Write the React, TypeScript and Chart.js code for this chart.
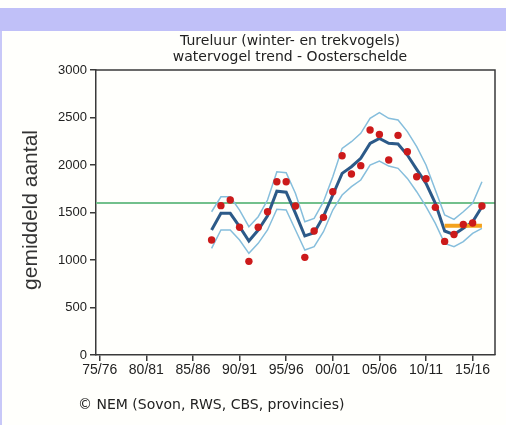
import React, { useEffect, useRef } from "react";
import { Chart, registerables } from "chart.js";

Chart.register(...registerables);

const YEARS = [
  1987, 1988, 1989, 1990, 1991, 1992, 1993, 1994, 1995, 1996,
  1997, 1998, 1999, 2000, 2001, 2002, 2003, 2004, 2005, 2006,
  2007, 2008, 2009, 2010, 2011, 2012, 2013, 2014, 2015, 2016,
];
const COUNTS = [
  1210, 1572, 1632, 1344, 986, 1344, 1508, 1824, 1824, 1568,
  1028, 1305, 1449, 1719, 2098, 1905, 1993, 2368, 2322, 2053,
  2312, 2140, 1877, 1856, 1554, 1196, 1268, 1374, 1389, 1568,
];
const TREND = [
  1316, 1491, 1491, 1351, 1200, 1316, 1466, 1724, 1714, 1491,
  1253, 1287, 1459, 1684, 1912, 1982, 2070, 2228, 2280, 2228,
  2221, 2105, 1954, 1807, 1596, 1305, 1268, 1333, 1403, 1561,
];
const UPPER = [
  1508, 1666, 1666, 1526, 1351, 1456, 1631, 1929, 1919, 1701,
  1403, 1438, 1614, 1877, 2175, 2245, 2333, 2491, 2551, 2491,
  2474, 2351, 2193, 2000, 1737, 1474, 1428, 1508, 1596, 1824,
];
const LOWER = [
  1123, 1316, 1316, 1210, 1070, 1175, 1316, 1535, 1526, 1316,
  1105, 1140, 1298, 1526, 1684, 1772, 1842, 2000, 2042, 1989,
  1965, 1859, 1719, 1561, 1386, 1175, 1140, 1193, 1280, 1333,
];
const REFERENCE_LEVEL = 1600;
const RECENT_YEARS = [2012, 2016];
const RECENT_LEVEL = 1360;

const X_MIN = 1974.6;
const X_MAX = 2017.4;
const TICK_YEARS = [1975, 1980, 1985, 1990, 1995, 2000, 2005, 2010, 2015];
const TICK_LABELS = ["75/76", "80/81", "85/86", "90/91", "95/96", "00/01", "05/06", "10/11", "15/16"];

const TITLE_1 = "Tureluur (winter- en trekvogels)";
const TITLE_2 = "watervogel trend - Oosterschelde";
const Y_TITLE = "gemiddeld aantal";
const FOOTER = "\u00A9 NEM (Sovon, RWS, CBS, provincies)";

const AXIS_COLOR = "#3a3a3a";

const decorPlugin = {
  id: "decor",
  afterDraw(chart: any) {
    const { ctx, chartArea } = chart;
    const { left, right, top, bottom } = chartArea;
    ctx.save();
    ctx.strokeStyle = AXIS_COLOR;
    ctx.lineWidth = 1.5;
    ctx.beginPath();
    ctx.moveTo(left, top);
    ctx.lineTo(right, top);
    ctx.lineTo(right, bottom);
    ctx.stroke();

    ctx.fillStyle = "#222";
    ctx.textAlign = "center";
    ctx.textBaseline = "middle";
    ctx.font = "14px 'DejaVu Sans'";
    ctx.fillText(TITLE_1, 290, 41);
    ctx.fillText(TITLE_2, 290, 57);

    ctx.textAlign = "left";
    ctx.font = "14px 'DejaVu Sans'";
    ctx.fillText(FOOTER, 78, 405);

    ctx.save();
    ctx.translate(31, 210);
    ctx.rotate(-Math.PI / 2);
    ctx.textAlign = "center";
    ctx.font = "21px 'Liberation Sans'";
    ctx.fillStyle = "#333";
    ctx.fillText(Y_TITLE, 0, 0);
    ctx.restore();
    ctx.restore();
  },
};

export default function App() {
  const ref = useRef<HTMLCanvasElement | null>(null);

  useEffect(() => {
    if (!ref.current) return;
    const pts = (vals: number[]) => YEARS.map((y, i) => ({ x: y, y: vals[i] }));
    const chart = new Chart(ref.current, {
      type: "line",
      data: {
        datasets: [
          {
            label: "reference",
            data: [
              { x: X_MIN, y: REFERENCE_LEVEL },
              { x: X_MAX, y: REFERENCE_LEVEL },
            ],
            borderColor: "#72c08c",
            borderWidth: 2,
            pointRadius: 0,
            order: 6,
          },
          {
            label: "upper",
            data: pts(UPPER),
            borderColor: "#86bedc",
            borderWidth: 1.5,
            pointRadius: 0,
            order: 5,
          },
          {
            label: "lower",
            data: pts(LOWER),
            borderColor: "#86bedc",
            borderWidth: 1.5,
            pointRadius: 0,
            order: 4,
          },
          {
            label: "trend",
            data: pts(TREND),
            borderColor: "#2c5a88",
            borderWidth: 3,
            pointRadius: 0,
            order: 3,
          },
          {
            label: "recent",
            data: RECENT_YEARS.map((y) => ({ x: y, y: RECENT_LEVEL })),
            borderColor: "#f4a21c",
            borderWidth: 4,
            pointRadius: 0,
            order: 2,
          },
          {
            label: "counts",
            data: pts(COUNTS),
            showLine: false,
            pointRadius: 3.7,
            pointBackgroundColor: "#cc1a1a",
            pointBorderColor: "#cc1a1a",
            pointBorderWidth: 0,
            order: 1,
          },
        ],
      },
      options: {
        responsive: false,
        animation: false,
        events: [],
        layout: { padding: { left: 0, top: 70, right: 11, bottom: 0 } },
        plugins: {
          legend: { display: false },
          title: { display: false },
          tooltip: { enabled: false },
        },
        scales: {
          x: {
            type: "linear",
            min: X_MIN,
            max: X_MAX,
            afterBuildTicks: (scale: any) => {
              scale.ticks = TICK_YEARS.map((v) => ({ value: v }));
            },
            afterFit: (scale: any) => {
              scale.height = 70;
            },
            ticks: {
              autoSkip: false,
              maxRotation: 0,
              padding: 1,
              color: "#222",
              font: { family: "'Liberation Sans'", size: 14 },
              callback: (_v: any, i: number) => TICK_LABELS[i],
            },
            grid: {
              drawOnChartArea: false,
              drawTicks: true,
              tickLength: 6,
              color: AXIS_COLOR,
              lineWidth: 1.5,
            },
            border: { display: true, color: AXIS_COLOR, width: 1.5 },
          },
          y: {
            min: 0,
            max: 3000,
            afterFit: (scale: any) => {
              scale.width = 96;
            },
            ticks: {
              stepSize: 500,
              padding: 3,
              color: "#222",
              font: { family: "'Liberation Sans'", size: 13 },
              callback: (v: any) => String(v),
            },
            grid: {
              drawOnChartArea: false,
              drawTicks: true,
              tickLength: 6,
              color: AXIS_COLOR,
              lineWidth: 1.5,
            },
            border: { display: true, color: AXIS_COLOR, width: 1.5 },
          },
        },
      },
      plugins: [decorPlugin],
    } as any);
    return () => chart.destroy();
  }, []);

  return (
    <div
      style={{
        position: "fixed",
        left: 0,
        top: 0,
        width: 506,
        height: 425,
        background: "#fffffc",
        overflow: "hidden",
      }}
    >
      <div style={{ position: "absolute", left: 0, top: 8, width: 506, height: 23, background: "#c0c0f8" }} />
      <div style={{ position: "absolute", left: 0, top: 31, width: 2, height: 394, background: "#c8c8f8" }} />
      <canvas
        ref={ref}
        width={506}
        height={425}
        style={{ position: "absolute", left: 0, top: 0, display: "block" }}
      />
    </div>
  );
}
